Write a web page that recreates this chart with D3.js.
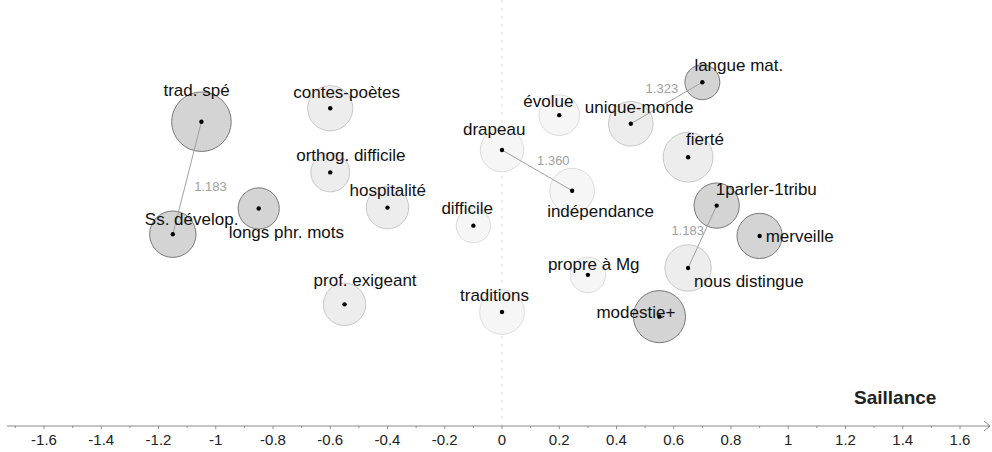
<!DOCTYPE html>
<html>
<head>
<meta charset="utf-8">
<script src="https://cdn.jsdelivr.net/npm/d3@7"></script>
<style>
  html, body { margin: 0; padding: 0; background: #fff; }
  svg { display: block; font-family: "Liberation Sans", Arial, sans-serif; }
</style>
</head>
<body>
<div id="chart"></div>
<script>
// data
const termes = ["trad. spé", "Ss. dévelop.", "longs phr. mots", "contes-poètes", "orthog. difficile",
  "hospitalité", "prof. exigeant", "difficile", "drapeau", "traditions", "évolue", "unique-monde",
  "indépendance", "propre à Mg", "langue mat.", "fierté", "1parler-1tribu", "merveille",
  "nous distingue", "modestie+"]
const saillance = [-1.05, -1.15, -0.85, -0.6, -0.6, -0.4, -0.55, -0.1, 0, 0, 0.2, 0.45,
  0.245, 0.3, 0.7, 0.65, 0.75, 0.9, 0.65, 0.55]
const ordonnee = [1.063, 0.670, 0.760, 1.110, 0.886, 0.763, 0.425, 0.700, 0.964, 0.398, 1.086, 1.056,
  0.822, 0.528, 1.201, 0.939, 0.770, 0.664, 0.552, 0.382]
const rayon = [0.104, 0.081, 0.072, 0.079, 0.068, 0.074, 0.074, 0.060, 0.076, 0.078, 0.071, 0.078,
  0.078, 0.062, 0.061, 0.087, 0.079, 0.079, 0.081, 0.091]
const groupe = [1, 1, 1, 2, 2, 2, 2, 3, 3, 3, 3, 2, 3, 3, 1, 2, 1, 1, 2, 1]
const liens = [
  { source: "trad. spé", target: "Ss. dévelop.", valeur: "1.183" },
  { source: "drapeau", target: "indépendance", valeur: "1.360" },
  { source: "unique-monde", target: "langue mat.", valeur: "1.323" },
  { source: "1parler-1tribu", target: "nous distingue", valeur: "1.183" }
]
const ticks = [-1.6, -1.4, -1.2, -1, -0.8, -0.6, -0.4, -0.2, 0, 0.2, 0.4, 0.6, 0.8, 1, 1.2, 1.4, 1.6]

// label placement (pixels, relative to the point)
const labelOffset = {
  "trad. spé": [-38, -26], "Ss. dévelop.": [-28, -9], "longs phr. mots": [-30, 30],
  "contes-poètes": [-37, -10], "orthog. difficile": [-34, -11], "hospitalité": [-38, -12],
  "prof. exigeant": [-31, -18], "difficile": [-32, -12], "drapeau": [-39, -15],
  "traditions": [-42, -11], "évolue": [-36, -8], "unique-monde": [-46, -11],
  "indépendance": [-25, 26], "propre à Mg": [-40, -5], "langue mat.": [-8, -11],
  "fierté": [-2, -12], "1parler-1tribu": [-1, -11], "merveille": [6, 6],
  "nous distingue": [6, 19], "modestie+": [-63, 1]
}
const edgeOffset = [[7, 13], [0, -5], [-21, -10], [-31, -2]]

const width = 992
const height = 452
const axisY = 426

const nodes = termes.map((t, i) => ({
  name: t, x: saillance[i], y: ordonnee[i], r: rayon[i], g: groupe[i]
}))
const byName = {}
nodes.forEach(n => { byName[n.name] = n })

const x = d3.scaleLinear().domain([-1.6, 1.6]).range([44, 960])
const y = d3.scaleLinear().domain([0, 1]).range([axisY, axisY - (x(1) - x(0))])
const fill = d3.scaleOrdinal().domain([1, 2, 3]).range(["#d4d4d4", "#ededed", "#f6f6f6"])
const stroke = d3.scaleOrdinal().domain([1, 2, 3]).range(["#787878", "#c8c8c8", "#dcdcdc"])

const svg = d3.select("#chart").append("svg")
  .attr("width", width)
  .attr("height", height)

// dashed vertical line at 0
svg.append("line")
  .attr("x1", x(0)).attr("x2", x(0))
  .attr("y1", 0).attr("y2", axisY)
  .attr("stroke", "#e2e2e2")
  .attr("stroke-dasharray", "3,5")

// circles
svg.append("g")
  .selectAll("circle")
  .data(nodes)
  .enter()
  .append("circle")
  .attr("cx", d => x(d.x))
  .attr("cy", d => y(d.y))
  .attr("r", d => x(d.r) - x(0))
  .attr("fill", d => fill(d.g))
  .attr("stroke", d => stroke(d.g))
  .attr("stroke-width", 1)

// links
svg.append("g")
  .selectAll("line")
  .data(liens)
  .enter()
  .append("line")
  .attr("x1", d => x(byName[d.source].x))
  .attr("y1", d => y(byName[d.source].y))
  .attr("x2", d => x(byName[d.target].x))
  .attr("y2", d => y(byName[d.target].y))
  .attr("stroke", "#a0a0a0")
  .attr("stroke-width", 1)

svg.append("g")
  .selectAll("text")
  .data(liens)
  .enter()
  .append("text")
  .attr("x", (d, i) => (x(byName[d.source].x) + x(byName[d.target].x)) / 2 + edgeOffset[i][0])
  .attr("y", (d, i) => (y(byName[d.source].y) + y(byName[d.target].y)) / 2 + edgeOffset[i][1])
  .attr("fill", "#a0a0a0")
  .attr("font-size", "13px")
  .text(d => d.valeur)

// dots
svg.append("g")
  .selectAll("circle")
  .data(nodes)
  .enter()
  .append("circle")
  .attr("cx", d => x(d.x))
  .attr("cy", d => y(d.y))
  .attr("r", 2.2)
  .attr("fill", "#000")

// labels
svg.append("g")
  .selectAll("text")
  .data(nodes)
  .enter()
  .append("text")
  .attr("x", d => x(d.x) + labelOffset[d.name][0])
  .attr("y", d => y(d.y) + labelOffset[d.name][1])
  .attr("font-size", "17px")
  .attr("fill", "#111")
  .text(d => d.name)

// x axis
const axis = svg.append("g")
axis.append("line")
  .attr("x1", 7).attr("x2", 990)
  .attr("y1", axisY).attr("y2", axisY)
  .attr("stroke", "#8c8c8c")
axis.append("path")
  .attr("d", `M984,${axisY - 5} L990,${axisY} L984,${axisY + 5}`)
  .attr("fill", "none")
  .attr("stroke", "#8c8c8c")

const minor = d3.range(-17, 18).map(v => v / 10)
axis.selectAll(".tick")
  .data(minor)
  .enter()
  .append("line")
  .attr("x1", d => x(d)).attr("x2", d => x(d))
  .attr("y1", axisY)
  .attr("y2", (d, i) => axisY + (i % 2 === 1 ? 3 : 2))
  .attr("stroke", "#8c8c8c")

axis.selectAll(".lab")
  .data(ticks)
  .enter()
  .append("text")
  .attr("x", d => x(d))
  .attr("y", 445)
  .attr("text-anchor", "middle")
  .attr("font-size", "15px")
  .attr("fill", "#222")
  .text(d => d)

svg.append("text")
  .attr("x", 854)
  .attr("y", 404)
  .attr("font-size", "19px")
  .attr("font-weight", "bold")
  .attr("fill", "#222")
  .text("Saillance")
</script>
</body>
</html>
